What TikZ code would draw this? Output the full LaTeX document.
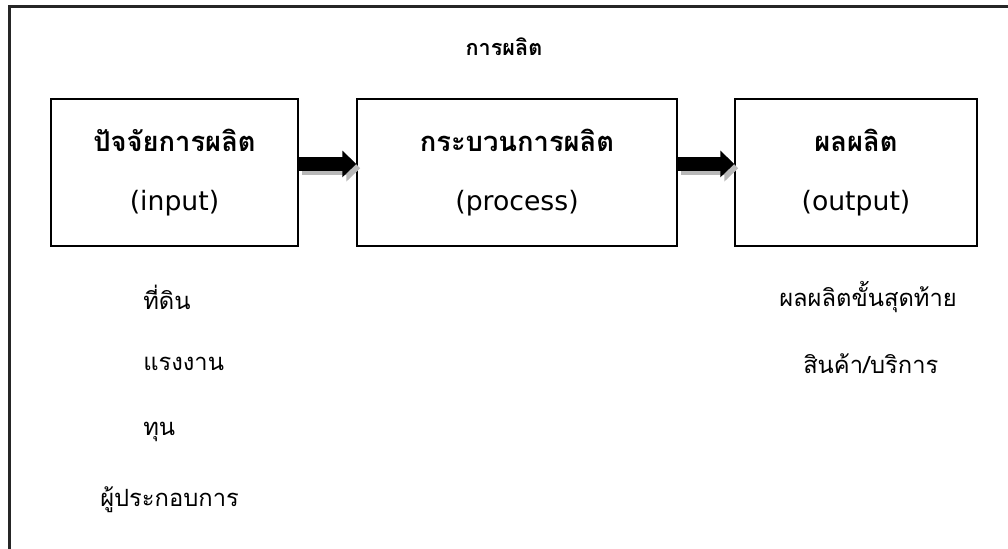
\documentclass[tikz,border=0pt]{standalone}
\usepackage{fontspec}
\setmainfont{Loma}[Script=Thai]
\newfontfamily\latinfont{DejaVu Sans}
\usetikzlibrary{arrows.meta}
\tikzset{
  px/.style={x=0.75pt,y=-0.75pt},
  box/.style={draw=black,line width=1.1pt,minimum height=110.25pt,inner sep=0pt,align=center,
    font=\fontsize{20.5}{44}\selectfont},
  frameline/.style={draw=black!85,line width=1.6pt},
  blockarrow/.style={line width=10.5pt,-{Triangle[length=10.5pt,width=19.5pt]}},
  shadowarrow/.style={blockarrow,draw=black!28},
  item/.style={font=\fontsize{17.8}{20}\selectfont,inner sep=0pt},
  ttl/.style={font=\bfseries\fontsize{16.2}{20}\selectfont,inner sep=0pt}
}
\newcommand{\lat}[1]{{\latinfont\fontsize{20}{44}\selectfont #1}}
\begin{document}
\begin{tikzpicture}[px]
\useasboundingbox (0,0) rectangle (1008,549);
\coordinate (ftr) at (1008,6.5);
\coordinate (ftl) at (9.5,6.5);
\coordinate (fbl) at (9.5,549);
\draw[frameline] (ftr) -- (ftl) -- (fbl);
\node[ttl] (title) at (504,47) {การผลิต};
\node[box,minimum width=185.25pt] (b1) at (174.5,172.5) {\textbf{ปัจจัยการผลิต}\\\lat{(input)}};
\node[box,minimum width=240pt] (b2) at (517,172.5) {\textbf{กระบวนการผลิต}\\\lat{(process)}};
\node[box,minimum width=181.5pt] (b3) at (856,172.5) {\textbf{ผลผลิต}\\\lat{(output)}};
% arrows
\draw[shadowarrow] ([xshift=2.25pt,yshift=3.2pt]b1.east) -- ([xshift=3pt,yshift=3.2pt]b2.west);
\draw[blockarrow] ([yshift=6.4pt]b1.east) -- ([yshift=6.4pt]b2.west);
\draw[shadowarrow] ([xshift=2.25pt,yshift=3.2pt]b2.east) -- ([xshift=3pt,yshift=3.2pt]b3.west);
\draw[blockarrow] ([yshift=6.4pt]b2.east) -- ([yshift=6.4pt]b3.west);
% lists
\node[item,anchor=west] (i1) at (143,297) {ที่ดิน};
\node[item,anchor=west] (i2) at (143,364) {แรงงาน};
\node[item,anchor=west] (i3) at (143,432) {ทุน};
\node[item,anchor=west] (i4) at (100,500) {ผู้ประกอบการ};
\node[item,anchor=west] (o1) at (779,297) {ผลผลิตขั้นสุดท้าย};
\node[item,anchor=west] (o2) at (803,364) {สินค้า/บริการ};
\end{tikzpicture}
\end{document}
